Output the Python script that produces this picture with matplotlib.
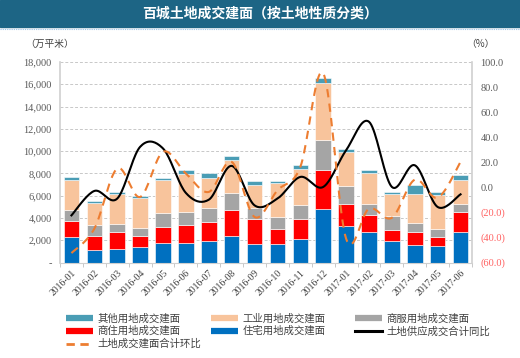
import numpy as np
from matplotlib import pyplot as plt
from matplotlib.lines import Line2D
from matplotlib.ticker import FuncFormatter

plt.rcParams['font.family'] = ['Noto Sans CJK SC', 'DejaVu Sans']

# data (万平米 / %)
months = ['2016-01', '2016-02', '2016-03', '2016-04', '2016-05', '2016-06',
          '2016-07', '2016-08', '2016-09', '2016-10', '2016-11', '2016-12',
          '2017-01', '2017-02', '2017-03', '2017-04', '2017-05', '2017-06']
residential = [2270, 1130, 1220, 1420, 1790, 1760, 1970, 2390, 1670,
               1640, 2090, 4790, 3260, 2750, 1910, 1550, 1510, 2780]
mixed = [1470, 1280, 1500, 970, 1410, 1650, 1680, 2280, 2220,
         1410, 1830, 3540, 2010, 1530, 1020, 1170, 760, 1740]
commercial = [990, 970, 720, 720, 1230, 1140, 1260, 1590, 960,
              1020, 1230, 2640, 1620, 960, 1260, 810, 720, 750]
industrial = [2640, 1980, 2730, 2640, 2940, 3360, 2670, 2970, 2100,
              3060, 3250, 5170, 3000, 2790, 1980, 2640, 3090, 2160]
other = [330, 180, 180, 180, 210, 360, 420, 360, 330,
         190, 360, 450, 310, 300, 120, 750, 240, 420]
yoy = [-22.4, -2.9, -9.0, 32.3, 31.0, -4.5, -9.9, 17.1, -14.4,
       -9.0, 8.3, 0.3, 29.6, 52.3, 0.3, 17.6, -15.7, -5.6]
mom = [-52.5, -33.0, 15.0, -7.7, 28.3, 11.0, -3.7, 20.3, -23.7,
       -2.4, 16.3, 91.0, -41.0, -17.0, -24.3, 6.1, -8.3, 20.3]

C_RES = '#0070C0'
C_MIX = '#FF0000'
C_COM = '#A5A5A5'
C_IND = '#F8C49C'
C_OTH = '#4A9DB5'
C_MOM = '#ED7D31'


def smooth(y, n=20):
    # Catmull-Rom like the Excel smoothed line
    y = np.asarray(y, float)
    x = np.arange(len(y), dtype=float)
    px = np.concatenate([[x[0]], x, [x[-1]]])
    py = np.concatenate([[y[0]], y, [y[-1]]])
    xs, ys = [], []
    for i in range(len(y) - 1):
        p0, p1, p2, p3 = py[i], py[i + 1], py[i + 2], py[i + 3]
        q0, q1, q2, q3 = px[i], px[i + 1], px[i + 2], px[i + 3]
        t = np.linspace(0, 1, n, endpoint=False)
        b1 = (p1, p1 + (p2 - p0) / 6, p2 - (p3 - p1) / 6, p2)
        a1 = (q1, q1 + (q2 - q0) / 6, q2 - (q3 - q1) / 6, q2)
        bez = lambda c: ((1 - t) ** 3 * c[0] + 3 * (1 - t) ** 2 * t * c[1]
                         + 3 * (1 - t) * t ** 2 * c[2] + t ** 3 * c[3])
        xs.append(bez(a1))
        ys.append(bez(b1))
    xs.append([x[-1]])
    ys.append([y[-1]])
    return np.concatenate(xs), np.concatenate(ys)


fig = plt.figure(figsize=(5.2, 3.58), dpi=100)

# title banner
fig.patches.append(plt.Rectangle((0, 1 - 27 / 358), 1, 27 / 358, transform=fig.transFigure,
                                 color='#1D6585', zorder=0))
fig.add_artist(Line2D([0, 1], [1 - 28.5 / 358] * 2, transform=fig.transFigure,
                      color='#9DC3E6', lw=0.8, ls=(0, (1, 1))))
fig.text(0.5, 1 - 13.5 / 358, '百城土地成交建面（按土地性质分类）', color='white',
         fontsize=10, fontweight='bold', ha='center', va='center')

ax = fig.add_axes([60 / 520, 1 - 262.5 / 358, 412 / 520, 200.5 / 358])
ax2 = ax.twinx()

x = np.arange(len(months))
w = 0.68
bottom = np.zeros(len(months))
for vals, col in [(residential, C_RES), (mixed, C_MIX), (commercial, C_COM),
                  (industrial, C_IND), (other, C_OTH)]:
    ax.bar(x, vals, w, bottom=bottom, color=col, edgecolor='white', linewidth=0.4, zorder=2)
    bottom += np.array(vals)

ax.set_ylim(0, 18000)
ax.set_yticks(np.arange(0, 18001, 2000))
ax.yaxis.set_major_formatter(FuncFormatter(lambda v, p: '-' if v == 0 else f'{int(v):,}'))
ax.set_xlim(-0.5, len(months) - 0.5)
ax.set_xticks(x)
ax.set_xticklabels(months, rotation=45, ha='right', rotation_mode='anchor')
ax.set_xticks(np.arange(-0.5, len(months), 1), minor=True)
ax.tick_params(axis='x', which='major', length=0, pad=4, labelsize=7, colors='#404040')
ax.tick_params(axis='x', which='minor', length=3, color='#BFBFBF')
ax.tick_params(axis='y', length=0, labelsize=7.5, colors='#595959', pad=6)
ax.grid(axis='y', color='#C8C8C8', ls=(0, (3, 2)), lw=0.7, zorder=0)
ax.set_axisbelow(True)
for s in ['top', 'right']:
    ax.spines[s].set_visible(False)
ax.spines['left'].set_color('#D0D0D0')
ax.spines['left'].set_linewidth(1.2)
ax.spines['bottom'].set_color('#D0D0D0')
for lab in ax.get_yticklabels() + ax.get_xticklabels():
    lab.set_family(['Liberation Serif', 'DejaVu Serif'])

sx, sy = smooth(yoy)
ax2.plot(sx, sy, color='black', lw=1.5, zorder=4)
sx, sy = smooth(mom)
ax2.plot(sx, sy, color=C_MOM, lw=1.5, ls=(0, (4, 3)), zorder=4)
ax2.set_ylim(-60, 100)
ax2.set_yticks(np.arange(-60, 101, 20))
ax2.yaxis.set_major_formatter(FuncFormatter(lambda v, p: f'({abs(v):.1f})' if v < 0 else f'{v:.1f}'))
ax2.tick_params(axis='y', length=0, labelsize=7.5, colors='#595959', pad=6)
for lab, v in zip(ax2.get_yticklabels(), np.arange(-60, 101, 20)):
    lab.set_family(['Liberation Serif', 'DejaVu Serif'])
    if v < 0:
        lab.set_color('#FF6060')
for s in ['top', 'left', 'bottom']:
    ax2.spines[s].set_visible(False)
ax2.spines['right'].set_color('#D0D0D0')
ax2.spines['right'].set_linewidth(1.2)

fig.text(25 / 520, 1 - 44 / 358, '（万平米）', fontsize=7, color='#404040', va='center')
fig.text(466 / 520, 1 - 44 / 358, '（%）', fontsize=7, color='#404040', va='center')

# legend, one column at a time so the columns sit where they do in the reference
h = lambda c: Line2D([], [], color=c, lw=4.5, solid_capstyle='butt')
hF = Line2D([], [], color='black', lw=2.2)
hG = Line2D([], [], color=C_MOM, lw=2, ls=(0, (3, 2)))
cols = [
    (64, [h(C_OTH), h(C_MIX), hG], ['其他用地成交建面', '商住用地成交建面', '土地成交建面合计环比']),
    (209, [h(C_IND), h(C_RES)], ['工业用地成交建面', '住宅用地成交建面']),
    (353, [h(C_COM), hF], ['商服用地成交建面', '土地供应成交合计同比']),
]
for xpos, hs, ls in cols:
    leg = fig.legend(hs, ls, loc='upper left', bbox_to_anchor=(xpos / 520, 1 - 311 / 358),
                     frameon=False, fontsize=7.5, handlelength=2.6, handletextpad=0.4,
                     labelspacing=0.25, labelcolor='#404040', borderaxespad=0, borderpad=0.2)

fig.savefig('out.png', dpi=100)
